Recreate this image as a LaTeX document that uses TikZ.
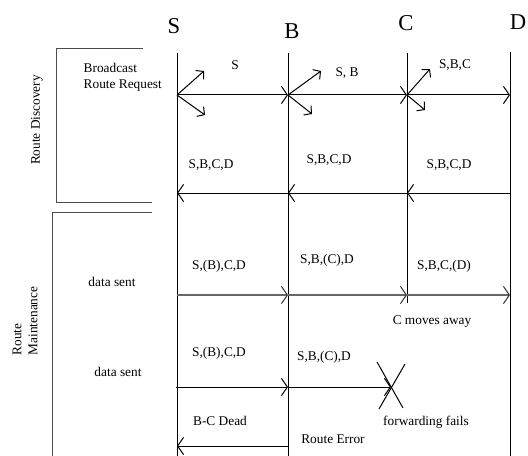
\documentclass[tikz,border=0pt]{standalone}
\usepackage{fontspec}
\setmainfont{Liberation Serif}
\usetikzlibrary{arrows.meta}

\begin{document}
\begin{tikzpicture}[x=0.75pt,y=-0.75pt,font=\normalsize,
    hdr/.style={font=\fontsize{17}{20}\selectfont},
    life/.style={line width=0.75pt},
    msg/.style={-{Straight Barb[length=4.5pt,width=13pt]},line width=0.75pt},
    fan/.style={-{Straight Barb[length=4pt,width=9pt]},line width=0.75pt},
    datamsg/.style={-{Straight Barb[length=4.5pt,width=13pt,line width=0.75pt,color=black!80]},line width=1.5pt,black!60},
    frame/.style={line width=0.75pt,black!70}]
    \useasboundingbox (0,0) rectangle (528,456);
    % Node headers
    \node[hdr] (hS) at (174,26) {S};
    \node[hdr] (hB) at (292,31) {B};
    \node[hdr] (hC) at (406,23) {C};
    \node[hdr] (hD) at (518,22) {D};
    % Lifelines
    \coordinate (Stop) at (177,53);  \coordinate (Sbot) at (177,456);
    \coordinate (Btop) at (288,53);  \coordinate (Bbot) at (288,456);
    \coordinate (Ctop) at (407,53);  \coordinate (Cbot) at (407,303);
    \coordinate (Dtop) at (510,52);  \coordinate (Dbot) at (510,456);
    \draw[life] (Stop)--(Sbot);
    \draw[life] (Btop)--(Bbot);
    \draw[life] (Ctop)--(Cbot);
    \draw[life] (Dtop)--(Dbot);
    % Phase brackets
    \coordinate (rd1) at (143,49); \coordinate (rd2) at (56,49);
    \coordinate (rd3) at (56,202); \coordinate (rd4) at (152,202);
    \draw[frame] (rd1)--(rd2)--(rd3)--(rd4);
    \coordinate (rm1) at (152,212); \coordinate (rm2) at (52,212);
    \coordinate (rm3) at (52,456);
    \draw[frame] (rm1)--(rm2)--(rm3);
    \node[rotate=90] (disc) at (37,120) {Route Discovery};
    \node[rotate=90,align=left] (maint) at (25,321) {Route\\Maintenance};
    % Route request (broadcast)
    \coordinate (S1) at (177,95); \coordinate (B1) at (288,95);
    \coordinate (C1) at (407,95); \coordinate (D1) at (510,95);
    \draw[msg] (S1)--(B1);
    \draw[msg] (B1)--(C1);
    \draw[msg] (C1)--(D1);
    \coordinate (S1u) at (204,71); \coordinate (S1d) at (205,115);
    \coordinate (B1u) at (321,71); \coordinate (B1d) at (312,114);
    \coordinate (C1u) at (430,69); \coordinate (C1d) at (425,110);
    \draw[fan] (S1)--(S1u); \draw[fan] (S1)--(S1d);
    \draw[fan] (B1)--(B1u); \draw[fan] (B1)--(B1d);
    \draw[fan] (C1)--(C1u); \draw[fan] (C1)--(C1d);
    \node[align=left,anchor=west] (bcast) at (79,77) {Broadcast\\Route Request};
    \node (rq1) at (235,65) {S};
    \node (rq2) at (347,73) {S, B};
    \node (rq3) at (455,65) {S,B,C};
    % Route reply
    \coordinate (S2) at (177,193); \coordinate (B2) at (288,193);
    \coordinate (C2) at (407,193); \coordinate (D2) at (510,193);
    \draw[msg] (D2)--(C2);
    \draw[msg] (C2)--(B2);
    \draw[msg] (B2)--(S2);
    \node (rp1) at (211,165) {S,B,C,D};
    \node (rp2) at (329,160) {S,B,C,D};
    \node (rp3) at (449,165) {S,B,C,D};
    % Data, first packet
    \coordinate (S3) at (177,295); \coordinate (B3) at (288,295);
    \coordinate (C3) at (407,295); \coordinate (D3) at (510,295);
    \draw[datamsg] (S3)--(B3);
    \draw[datamsg] (B3)--(C3);
    \draw[datamsg] (C3)--(D3);
    \node (ds1) at (112,282) {data sent};
    \node (dp1) at (219,266) {S,(B),C,D};
    \node (dp2) at (327,260) {S,B,(C),D};
    \node (dp3) at (444,266) {S,B,C,(D)};
    \node (cmove) at (432,322) {C moves away};
    % Data, second packet
    \coordinate (S4) at (176,387); \coordinate (B4) at (288,387);
    \coordinate (F4) at (391,387);
    \draw[msg] (S4)--(B4);
    \draw[msg] (B4)--(F4);
    \coordinate (x1) at (377,362); \coordinate (x2) at (403,408);
    \coordinate (x3) at (405,364); \coordinate (x4) at (379,409);
    \draw[life] (x1)--(x2);
    \draw[life] (x3)--(x4);
    \node (ds2) at (118,372) {data sent};
    \node (dq1) at (219,353) {S,(B),C,D};
    \node (dq2) at (324,357) {S,B,(C),D};
    \node (ffail) at (426,422) {forwarding fails};
    % Route error
    \coordinate (B5) at (288,446); \coordinate (S5) at (177,446);
    \draw[msg] (B5)--(S5);
    \node (dead) at (220,421) {B-C Dead};
    \node (rerr) at (333,439) {Route Error};
\end{tikzpicture}
\end{document}
